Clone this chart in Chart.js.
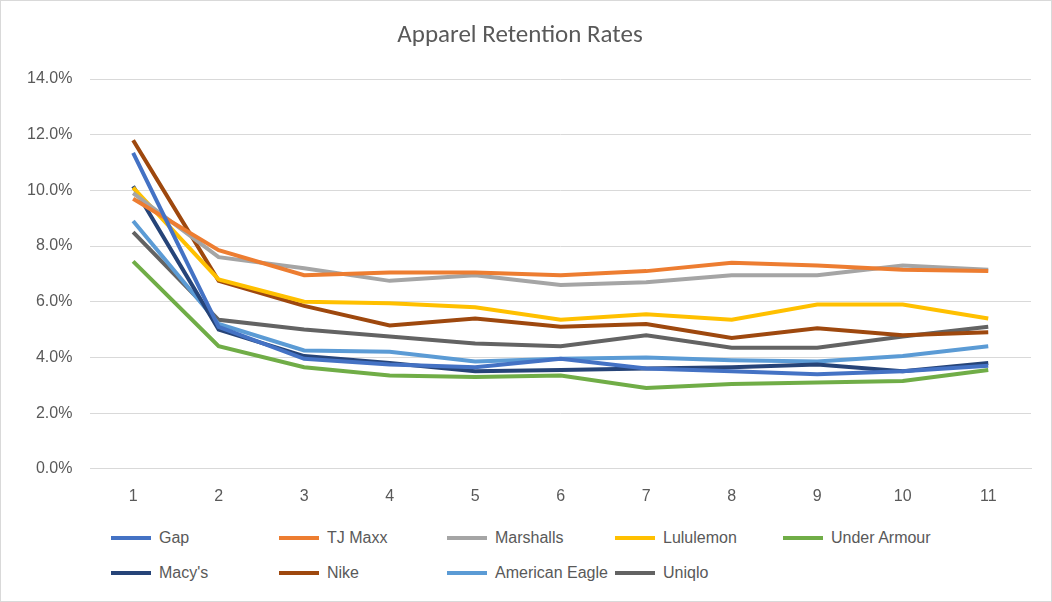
<!DOCTYPE html>
<html><head><meta charset="utf-8">
<script src="https://cdn.jsdelivr.net/npm/chart.js@4"></script>
<style>html,body{margin:0;background:#fff}
#w{position:relative;width:1052px;height:602px;box-sizing:border-box;border:1px solid #d9d9d9}
#cw{position:absolute;left:0;top:0;width:1050px;height:515px}
#lg{position:absolute;left:110px;top:526px;display:grid;grid-template-columns:repeat(5,168px);row-gap:13px;font-family:'Liberation Sans',sans-serif;font-size:16px;color:#595959}
.it{display:flex;align-items:center;height:22px}.ln{width:40px;height:4px;margin-right:8px}</style>
</head><body><div id="w"><div id="cw"><canvas id="c"></canvas></div><div id="lg"></div></div>
<script>
const categories=["1","2","3","4","5","6","7","8","9","10","11"];
const gap=[11.35,5.1,3.95,3.75,3.65,3.95,3.6,3.5,3.4,3.5,3.7];
const tjMaxx=[9.7,7.85,6.95,7.05,7.05,6.95,7.1,7.4,7.3,7.15,7.1];
const marshalls=[9.9,7.6,7.2,6.75,6.95,6.6,6.7,6.95,6.95,7.3,7.15];
const lululemon=[10.1,6.8,6.0,5.95,5.8,5.35,5.55,5.35,5.9,5.9,5.4];
const underArmour=[7.45,4.4,3.65,3.35,3.3,3.35,2.9,3.05,3.1,3.15,3.55];
const macys=[10.15,5.0,4.05,3.8,3.5,3.55,3.6,3.65,3.75,3.5,3.8];
const nike=[11.8,6.75,5.85,5.15,5.4,5.1,5.2,4.7,5.05,4.8,4.9];
const americanEagle=[8.9,5.2,4.25,4.2,3.85,3.95,4.0,3.9,3.85,4.05,4.4];
const uniqlo=[8.5,5.35,5.0,4.75,4.5,4.4,4.8,4.35,4.35,4.75,5.1];
const yTicks=[0,2,4,6,8,10,12,14];
const series=[["Gap",gap,"#4472C4"],["TJ Maxx",tjMaxx,"#ED7D31"],["Marshalls",marshalls,"#A5A5A5"],["Lululemon",lululemon,"#FFC000"],["Under Armour",underArmour,"#70AD47"],["Macy's",macys,"#264478"],["Nike",nike,"#9E480E"],["American Eagle",americanEagle,"#5B9BD5"],["Uniqlo",uniqlo,"#636363"]];
const lg=document.getElementById('lg');
series.forEach(s=>{const d=document.createElement('div');d.className='it';const l=document.createElement('span');l.className='ln';l.style.background=s[2];d.appendChild(l);d.appendChild(document.createTextNode(s[0]));lg.appendChild(d);});
new Chart(document.getElementById('c'),{type:'line',
data:{labels:categories,datasets:series.map(s=>({label:s[0],data:s[1],borderColor:s[2],backgroundColor:s[2],borderWidth:4,pointRadius:0,tension:0}))},
options:{responsive:true,maintainAspectRatio:false,animation:false,
layout:{padding:{left:8,right:20,top:12,bottom:0}},
plugins:{title:{display:true,text:'Apparel Retention Rates',color:'#595959',font:{family:'Calibri, Carlito, Liberation Sans, sans-serif',size:25,weight:'normal'},padding:{top:8,bottom:28}},
legend:{display:false},tooltip:{enabled:false}},
scales:{x:{offset:true,grid:{display:false},border:{color:'#d9d9d9'},ticks:{padding:10,color:'#595959',font:{size:16,family:'Liberation Sans, sans-serif'}}},
y:{min:0,max:14,afterBuildTicks:a=>{a.ticks=yTicks.map(v=>({value:v}))},grid:{color:'#d9d9d9',drawTicks:false},border:{display:false},ticks:{padding:18,color:'#595959',font:{size:16,family:'Liberation Sans, sans-serif'},callback:v=>v.toFixed(1)+'%'}}}}});
</script></body></html>
